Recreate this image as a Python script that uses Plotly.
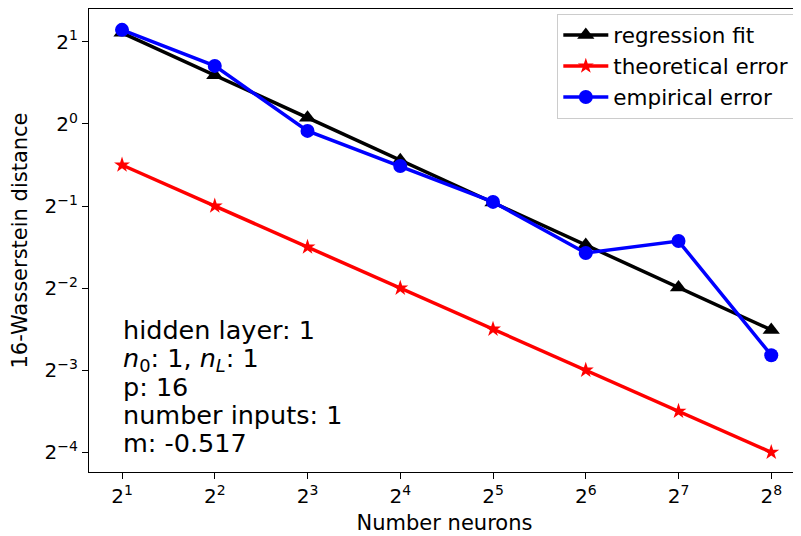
import plotly.graph_objects as go
import math

neurons = [2, 4, 8, 16, 32, 64, 128, 256]
regression_log2 = [1.11, 0.593, 0.076, -0.441, -0.958, -1.475, -1.992, -2.509]
theoretical_log2 = [-0.5, -1.0, -1.5, -2.0, -2.5, -3.0, -3.5, -4.0]
empirical_log2 = [1.146, 0.707, -0.085, -0.512, -0.95, -1.573, -1.427, -2.817]

regression = [2 ** v for v in regression_log2]
theoretical = [2 ** v for v in theoretical_log2]
empirical = [2 ** v for v in empirical_log2]

x_tick_exp = [1, 2, 3, 4, 5, 6, 7, 8]
y_tick_exp = [-4, -3, -2, -1, 0, 1]

info_lines = [
    "hidden layer: 1",
    "<i>n</i><sub>0</sub>: 1, <i>n<sub>L</sub></i>: 1",
    "p: 16",
    "number inputs: 1",
    "m: -0.517",
]

FONT = "DejaVu Sans"

fig = go.Figure()
fig.add_trace(go.Scatter(x=neurons, y=regression, mode="lines+markers", name="regression fit",
                         line=dict(color="black", width=3.5),
                         marker=dict(symbol="triangle-up", size=15, color="black")))
fig.add_trace(go.Scatter(x=neurons, y=theoretical, mode="lines+markers", name="theoretical error",
                         line=dict(color="#ff0000", width=3.5),
                         marker=dict(symbol="star", size=12, color="#ff0000")))
fig.add_trace(go.Scatter(x=neurons, y=empirical, mode="lines+markers", name="empirical error",
                         line=dict(color="#0000ff", width=3.5),
                         marker=dict(symbol="circle", size=14, color="#0000ff")))

def sup(e):
    return "2<sup>" + str(e).replace("-", "\u2212") + "</sup>"

fig.update_xaxes(type="log", automargin=False,
                 range=[0.644 * math.log10(2), 8.31 * math.log10(2)],
                 tickvals=[2 ** e for e in x_tick_exp], ticktext=[sup(e) for e in x_tick_exp],
                 ticks="outside", ticklen=6, tickwidth=1.2, tickcolor="black",
                 showline=True, linecolor="black", linewidth=1.3, mirror=True,
                 showgrid=False, zeroline=False,
                 tickfont=dict(family=FONT, size=20, color="black"),
                 title=dict(text="Number neurons", font=dict(family=FONT, size=21, color="black"), standoff=8))
fig.update_yaxes(type="log", automargin=False,
                 range=[-4.24 * math.log10(2), 1.40 * math.log10(2)],
                 tickvals=[2 ** e for e in y_tick_exp], ticktext=[sup(e) for e in y_tick_exp],
                 ticks="outside", ticklen=6, tickwidth=1.2, tickcolor="black",
                 showline=True, linecolor="black", linewidth=1.3, mirror=True,
                 showgrid=False, zeroline=False,
                 tickfont=dict(family=FONT, size=20, color="black"),
                 title=dict(text="16-Wasserstein distance", font=dict(family=FONT, size=21, color="black"), standoff=12))

line_y = [330, 359, 387, 415, 443]
for txt, yp in zip(info_lines, line_y):
    fig.add_annotation(text=txt, xref="paper", yref="paper",
                       x=(121 - 89) / 711, y=(472 - yp) / 463,
                       xanchor="left", yanchor="middle", showarrow=False,
                       font=dict(family=FONT, size=25.5, color="black"))

fig.update_layout(
    width=793, height=528,
    margin=dict(l=81, r=1, t=1, b=64),
    paper_bgcolor="white", plot_bgcolor="white",
    font=dict(family=FONT, color="black"),
    legend=dict(x=0.992, y=0.99, xanchor="right", yanchor="top",
                bgcolor="rgba(255,255,255,0.8)", bordercolor="#cccccc", borderwidth=1,
                font=dict(family=FONT, size=21.5, color="black"), itemwidth=45,
                tracegroupgap=0),
    showlegend=True,
)

fig.write_html("out.html")
